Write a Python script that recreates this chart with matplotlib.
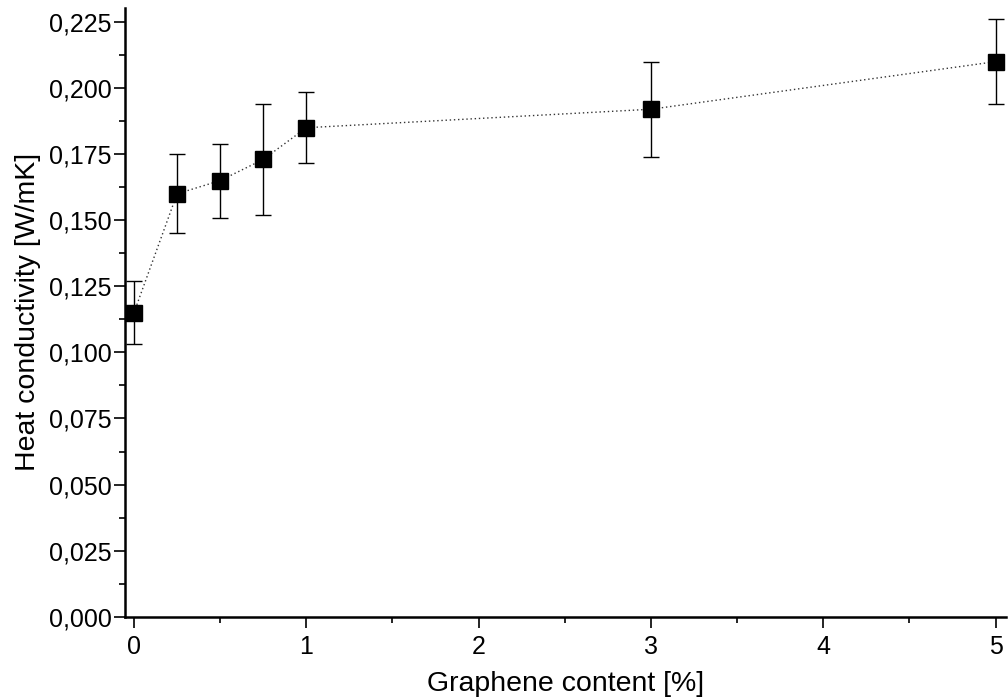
import matplotlib
matplotlib.use("Agg")
import matplotlib.pyplot as plt
from matplotlib.ticker import MultipleLocator, FuncFormatter

plt.rcParams['font.family'] = ['Liberation Sans', 'DejaVu Sans']

graphene = [0, 0.25, 0.5, 0.75, 1, 3, 5]
conductivity = [0.115, 0.160, 0.165, 0.173, 0.185, 0.192, 0.210]
errors = [0.012, 0.015, 0.014, 0.021, 0.0135, 0.018, 0.016]

fig = plt.figure(figsize=(10.08, 6.99), dpi=100)
ax = fig.add_axes([125/1008, 1-616.7/699, (1006-125)/1008, (616.7-8)/699])

ax.plot(graphene, conductivity, linestyle=(0, (1, 2)), color='#333333', linewidth=1.0, zorder=2)
ax.errorbar(graphene, conductivity, yerr=errors, fmt='none', ecolor='black',
            elinewidth=1.0, capsize=5.5, capthick=1.0, zorder=3)
ax.plot(graphene, conductivity, linestyle='none', marker='s', markersize=11.5,
        color='black', zorder=4)

ax.set_xlim(-0.052, 5.06)
ax.set_ylim(0, 0.2303)

ax.xaxis.set_major_locator(MultipleLocator(1))
ax.xaxis.set_minor_locator(MultipleLocator(0.5))
ax.yaxis.set_major_locator(MultipleLocator(0.025))
ax.yaxis.set_minor_locator(MultipleLocator(0.0125))

ax.yaxis.set_major_formatter(FuncFormatter(lambda v, p: f"{v:.3f}".replace('.', ',')))
ax.xaxis.set_major_formatter(FuncFormatter(lambda v, p: f"{v:.0f}"))

for s in ['top', 'right']:
    ax.spines[s].set_visible(False)
for s in ['left', 'bottom']:
    ax.spines[s].set_linewidth(1.8)

ax.tick_params(which='major', direction='out', length=8, width=1.2, labelsize=18)
ax.tick_params(which='minor', direction='out', length=4.5, width=1.2)
ax.tick_params(axis='y', which='major', pad=1.5)
ax.tick_params(axis='x', which='major', pad=5)

ax.set_xlabel("Graphene content [%]", fontsize=20.5, labelpad=8.5)
ax.set_ylabel("Heat conductivity [W/mK]", fontsize=20.5, labelpad=6)

fig.savefig("out.png", dpi=100)
